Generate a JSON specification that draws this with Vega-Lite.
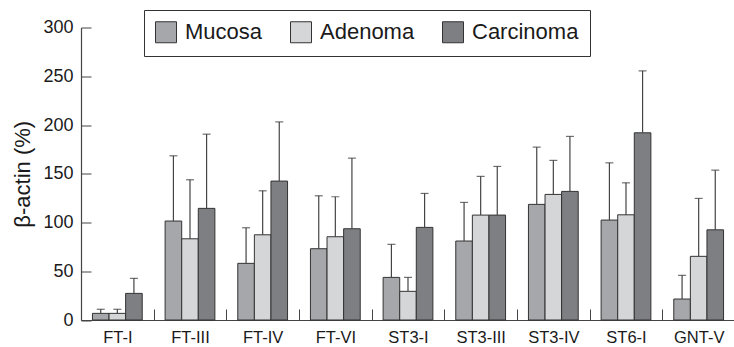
{
  "$schema": "https://vega.github.io/schema/vega-lite/v6.json",
  "width": 654,
  "height": 292.5,
  "autosize": {"type": "none"},
  "padding": {"left": 81, "top": 27.5, "right": 0, "bottom": 27},
  "background": "white",
  "config": {
    "view": {"stroke": null},
    "font": "Liberation Sans",
    "axis": {"labelFont": "Liberation Sans", "titleFont": "Liberation Sans", "labelColor": "#1a1a1a", "titleColor": "#1a1a1a", "domainColor": "#444", "tickColor": "#444", "grid": false}
  },
  "data": {"values": [
    {"group": "FT-I", "type": "Mucosa", "value": 6.8, "upper": 11},
    {"group": "FT-I", "type": "Adenoma", "value": 6.8, "upper": 11},
    {"group": "FT-I", "type": "Carcinoma", "value": 27.3, "upper": 42.7},
    {"group": "FT-III", "type": "Mucosa", "value": 101.5, "upper": 168.4},
    {"group": "FT-III", "type": "Adenoma", "value": 83.3, "upper": 143.8},
    {"group": "FT-III", "type": "Carcinoma", "value": 114.5, "upper": 190.6},
    {"group": "FT-IV", "type": "Mucosa", "value": 58.1, "upper": 94.6},
    {"group": "FT-IV", "type": "Adenoma", "value": 87.4, "upper": 132.5},
    {"group": "FT-IV", "type": "Carcinoma", "value": 142.5, "upper": 203.2},
    {"group": "FT-VI", "type": "Mucosa", "value": 73.1, "upper": 127.4},
    {"group": "FT-VI", "type": "Adenoma", "value": 85.4, "upper": 126.4},
    {"group": "FT-VI", "type": "Carcinoma", "value": 93.6, "upper": 166},
    {"group": "ST3-I", "type": "Mucosa", "value": 43.7, "upper": 77.6},
    {"group": "ST3-I", "type": "Adenoma", "value": 29.4, "upper": 43.7},
    {"group": "ST3-I", "type": "Carcinoma", "value": 95, "upper": 129.8},
    {"group": "ST3-III", "type": "Mucosa", "value": 81, "upper": 120.6},
    {"group": "ST3-III", "type": "Adenoma", "value": 107.6, "upper": 147.3},
    {"group": "ST3-III", "type": "Carcinoma", "value": 107.6, "upper": 157.5},
    {"group": "ST3-IV", "type": "Mucosa", "value": 118.6, "upper": 177.3},
    {"group": "ST3-IV", "type": "Adenoma", "value": 128.8, "upper": 163.7},
    {"group": "ST3-IV", "type": "Carcinoma", "value": 131.9, "upper": 188.3},
    {"group": "ST6-I", "type": "Mucosa", "value": 102.5, "upper": 161.2},
    {"group": "ST6-I", "type": "Adenoma", "value": 107.9, "upper": 140.7},
    {"group": "ST6-I", "type": "Carcinoma", "value": 192, "upper": 255.5},
    {"group": "GNT-V", "type": "Mucosa", "value": 21.5, "upper": 45.8},
    {"group": "GNT-V", "type": "Adenoma", "value": 65.3, "upper": 124.7},
    {"group": "GNT-V", "type": "Carcinoma", "value": 92.5, "upper": 153.7}
  ]},
  "encoding": {
    "x": {
      "field": "group", "type": "nominal",
      "sort": ["FT-I", "FT-III", "FT-IV", "FT-VI", "ST3-I", "ST3-III", "ST3-IV", "ST6-I", "GNT-V"],
      "scale": {"paddingInner": 0, "paddingOuter": 0},
      "axis": {"title": null, "labelAngle": 0, "labelFontSize": 16.5, "tickBand": "extent", "tickSize": -11, "tickWidth": 1, "labelPadding": 20, "domainWidth": 1.2}
    },
    "xOffset": {
      "field": "type", "type": "nominal",
      "sort": ["Mucosa", "Adenoma", "Carcinoma"],
      "scale": {"paddingInner": 0, "paddingOuter": 0.69}
    }
  },
  "layer": [
    {
      "mark": {"type": "bar", "stroke": "#333", "strokeWidth": 1},
      "encoding": {
        "y": {
          "field": "value", "type": "quantitative",
          "scale": {"domain": [0, 300], "nice": false},
          "axis": {"title": "β-actin (%)", "titleFontSize": 22, "titleFontWeight": "normal", "titlePadding": 8, "labelFontSize": 18, "values": [0, 50, 100, 150, 200, 250, 300], "tickSize": -10, "labelPadding": 18, "domainWidth": 1.2}
        },
        "fill": {
          "field": "type", "type": "nominal",
          "sort": ["Mucosa", "Adenoma", "Carcinoma"],
          "scale": {"domain": ["Mucosa", "Adenoma", "Carcinoma"], "range": ["#a6a7ab", "#d5d6d8", "#7e7f83"]},
          "legend": {
            "title": null, "orient": "none", "legendX": 63, "legendY": -17.5,
            "direction": "horizontal", "columns": 3,
            "symbolType": "square", "symbolSize": 441, "symbolStrokeColor": "#333", "symbolStrokeWidth": 1, "symbolOpacity": 1,
            "labelFontSize": 22, "labelFont": "Liberation Sans", "labelColor": "#1a1a1a", "labelOffset": 8,
            "columnPadding": 25, "padding": 11, "strokeColor": "#333", "fillColor": "white"
          }
        }
      }
    },
    {
      "mark": {"type": "rule", "color": "#444", "strokeWidth": 1.2},
      "encoding": {
        "y": {"field": "value", "type": "quantitative"},
        "y2": {"field": "upper"}
      }
    },
    {
      "mark": {"type": "tick", "color": "#333", "thickness": 1.2, "size": 8, "orient": "horizontal"},
      "encoding": {
        "y": {"field": "upper", "type": "quantitative"}
      }
    }
  ]
}
